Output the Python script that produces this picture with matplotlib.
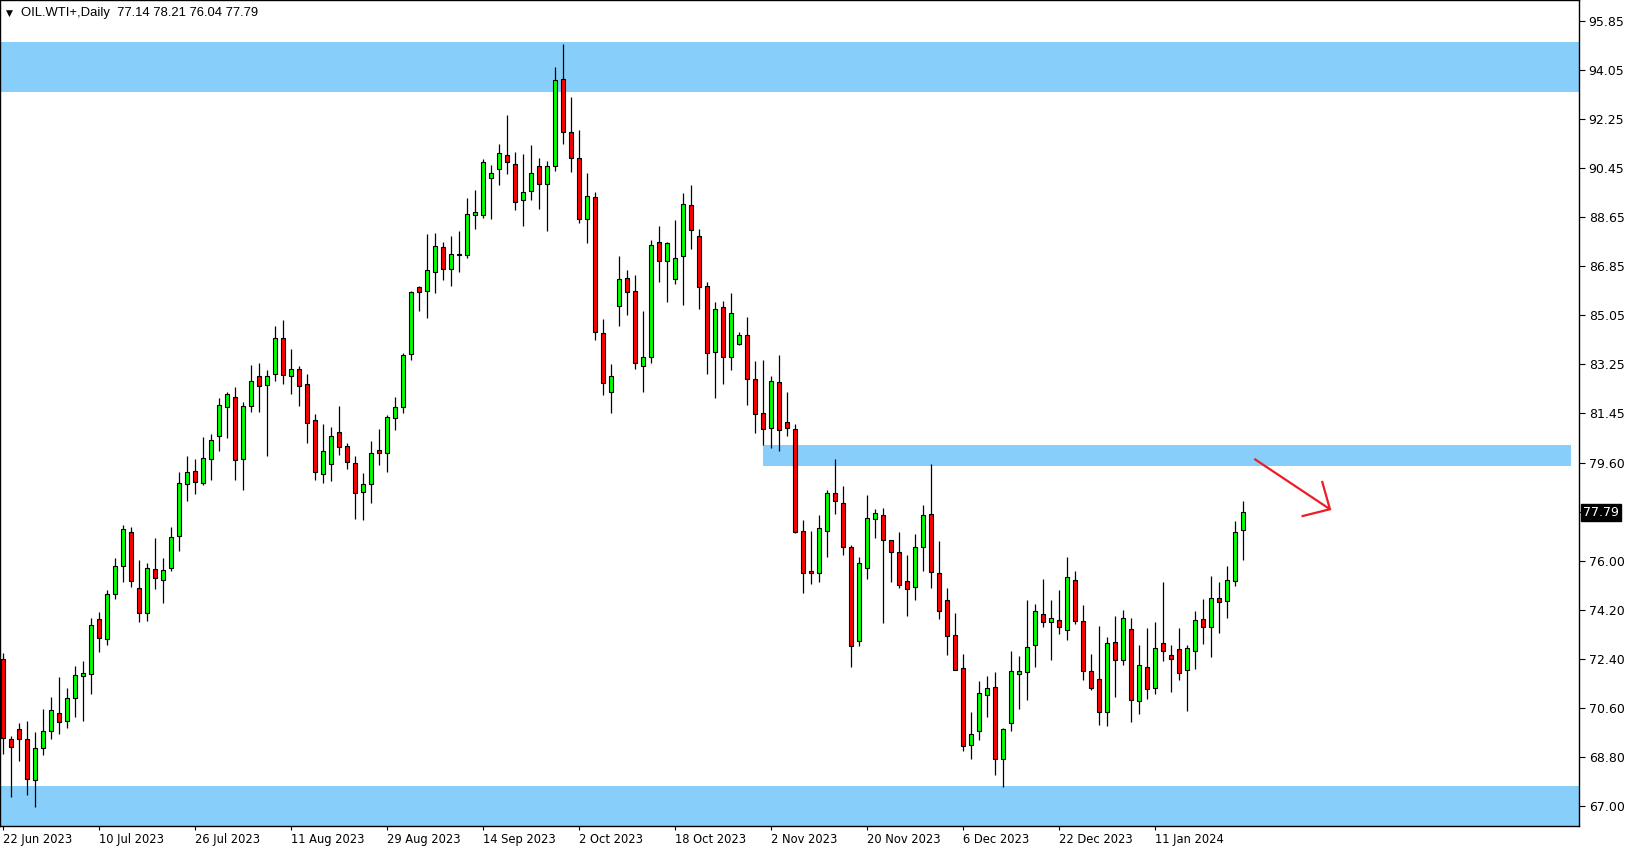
import numpy as np
import matplotlib
matplotlib.use("Agg")
import matplotlib.pyplot as plt
from matplotlib.transforms import blended_transform_factory

plt.rcParams['font.family'] = ['DejaVu Sans']

# daily OHLC, OIL.WTI+
opens = [72.40, 69.46, 69.83, 69.46, 67.96, 69.16, 69.75, 70.42, 70.12, 70.97,
         71.78, 71.85, 73.87, 73.13, 74.79, 75.81, 77.06, 75.01, 74.09, 75.71,
         75.30, 75.74, 76.94, 78.83, 79.30, 78.86, 79.74, 80.61, 81.68, 82.02,
         79.74, 81.69, 82.79, 82.46, 82.86, 84.18, 82.79, 83.05, 82.50, 81.17,
         79.19, 79.56, 80.73, 80.22, 79.60, 78.53, 78.82, 80.07, 79.96, 81.25,
         81.65, 83.60, 86.06, 85.91, 86.63, 87.53, 86.72, 87.26, 87.23, 88.70,
         88.70, 90.06, 90.39, 90.90, 90.57, 89.25, 89.58, 90.50, 89.84, 90.50,
         93.69, 91.75, 90.79, 88.58, 89.36, 84.37, 82.20, 85.36, 86.39, 85.91,
         83.16, 83.49, 87.71, 87.01, 86.35, 87.20, 89.07, 87.93, 86.09, 83.67,
         85.32, 83.49, 83.96, 84.30, 82.68, 81.43, 80.88, 82.57, 81.10, 80.85,
         77.10, 75.63, 75.56, 77.10, 78.50, 78.13, 76.51, 73.06, 75.74, 77.54,
         77.69, 76.77, 76.33, 75.26, 75.04, 76.51, 77.72, 75.56, 74.57, 73.28,
         72.07, 69.24, 69.76, 71.08, 71.37, 68.73, 70.05, 71.85, 71.92, 72.92,
         74.05, 73.76, 73.83, 73.47, 75.30, 73.80, 71.96, 71.67, 70.45, 73.02,
         72.36, 73.50, 70.86, 72.11, 71.34, 72.99, 72.55, 72.77, 72.00, 72.69,
         73.87, 73.58, 74.64, 74.53, 75.26, 77.14]
highs = [72.62, 69.58, 70.06, 70.13, 69.73, 70.58, 71.02, 71.75, 71.35, 72.16,
         72.33, 73.92, 74.13, 74.93, 76.12, 77.32, 77.27, 76.05, 75.93, 76.84,
         76.11, 77.25, 79.27, 79.87, 79.76, 80.56, 80.66, 82.00, 82.20, 82.39,
         81.84, 83.21, 83.28, 83.02, 84.64, 84.86, 83.79, 83.17, 82.88, 81.41,
         81.04, 80.92, 81.70, 80.34, 79.87, 79.24, 80.42, 80.86, 81.36, 82.04,
         83.63, 85.92, 86.11, 88.02, 88.05, 87.71, 87.94, 88.13, 89.34, 89.63,
         90.76, 90.55, 91.32, 92.38, 91.01, 90.94, 91.27, 90.80, 90.68, 94.13,
         94.98, 93.05, 91.82, 90.26, 89.56, 84.88, 83.23, 87.21, 86.68, 86.50,
         85.18, 87.78, 88.31, 87.71, 88.53, 89.52, 89.81, 88.20, 86.24, 85.52,
         85.54, 85.85, 84.40, 84.97, 83.35, 83.39, 82.80, 83.57, 82.21, 81.03,
         77.50, 77.11, 77.70, 78.62, 79.76, 78.76, 76.60, 76.15, 78.43, 77.91,
         77.94, 76.77, 77.06, 76.22, 76.99, 78.05, 79.56, 76.73, 75.01, 74.10,
         72.58, 70.47, 71.61, 71.78, 71.92, 69.87, 72.71, 72.52, 74.58, 74.42,
         75.34, 74.58, 74.95, 76.16, 75.64, 74.40, 72.60, 73.62, 73.21, 73.99,
         74.21, 73.92, 72.93, 73.55, 73.77, 75.23, 72.91, 73.54, 72.91, 74.18,
         74.62, 75.46, 75.23, 75.81, 77.48, 78.21]
lows = [68.91, 67.33, 68.68, 67.42, 66.99, 68.90, 69.49, 69.65, 69.86, 70.30,
        70.15, 71.14, 72.65, 72.94, 74.63, 75.25, 75.07, 73.78, 73.82, 74.97,
        74.46, 75.66, 76.39, 78.23, 78.48, 78.81, 79.00, 80.06, 80.54, 79.00,
        78.63, 81.47, 81.47, 79.85, 82.63, 82.52, 82.15, 81.71, 80.35, 78.98,
        78.89, 78.96, 79.91, 79.40, 77.56, 77.53, 78.12, 79.55, 79.29, 80.83,
        81.43, 83.40, 85.20, 84.94, 85.86, 86.34, 86.12, 86.63, 87.15, 88.21,
        88.61, 88.58, 89.83, 90.23, 88.91, 88.32, 89.25, 88.95, 88.14, 90.34,
        91.33, 90.30, 88.40, 87.70, 84.11, 82.09, 81.46, 84.65, 85.05, 83.07,
        82.23, 83.29, 86.27, 85.53, 86.19, 85.42, 87.48, 85.27, 82.89, 82.01,
        82.52, 83.03, 83.94, 81.75, 80.69, 80.25, 80.17, 80.06, 80.61, 77.05,
        74.85, 75.18, 75.25, 76.17, 77.75, 76.24, 72.10, 72.88, 75.36, 76.87,
        73.75, 75.25, 75.03, 74.00, 74.59, 75.66, 75.00, 73.89, 72.57, 72.00,
        69.05, 68.75, 69.45, 70.30, 68.16, 67.70, 69.78, 70.59, 70.92, 72.11,
        73.58, 72.39, 73.34, 73.10, 73.71, 71.64, 71.29, 70.00, 69.94, 71.03,
        72.18, 70.09, 70.41, 70.96, 71.14, 72.33, 71.19, 71.65, 70.49, 72.06,
        72.95, 72.50, 73.36, 73.91, 75.10, 76.04]
closes = [69.50, 69.19, 69.49, 67.99, 69.13, 69.76, 70.53, 70.09, 70.97, 71.81,
          71.89, 73.65, 73.17, 74.79, 75.81, 77.17, 75.26, 74.09, 75.74, 75.37,
          75.67, 76.88, 78.86, 79.27, 78.90, 79.78, 80.44, 81.73, 82.13, 79.71,
          81.69, 82.61, 82.42, 82.79, 84.18, 82.83, 83.05, 82.42, 81.06, 79.27,
          80.04, 80.59, 80.18, 79.63, 78.49, 78.82, 79.96, 79.96, 81.28, 81.65,
          83.56, 85.87, 85.90, 86.68, 87.56, 86.72, 87.27, 87.28, 88.74, 88.81,
          90.65, 90.24, 90.98, 90.65, 89.18, 89.54, 90.24, 89.84, 90.50, 93.66,
          91.75, 90.79, 88.58, 89.40, 84.41, 82.53, 82.79, 86.35, 85.90, 83.26,
          83.49, 87.60, 87.01, 87.67, 87.12, 89.10, 88.15, 86.05, 83.63, 85.25,
          83.49, 85.10, 84.30, 82.68, 81.42, 80.85, 82.61, 80.81, 80.88, 77.09,
          75.56, 75.56, 77.21, 78.50, 78.20, 76.51, 72.88, 75.93, 77.58, 77.76,
          76.77, 76.33, 75.12, 74.97, 76.51, 77.69, 75.59, 74.16, 73.25, 72.02,
          69.21, 69.65, 71.15, 71.34, 68.73, 69.83, 71.96, 71.96, 72.84, 74.16,
          73.76, 73.91, 73.58, 75.41, 73.80, 71.98, 71.34, 70.45, 72.99, 72.36,
          73.91, 70.90, 72.18, 71.30, 72.80, 72.69, 72.40, 71.89, 72.80, 73.83,
          73.58, 74.64, 74.49, 75.30, 77.06, 77.79]

date_labels = ["22 Jun 2023", "10 Jul 2023", "26 Jul 2023", "11 Aug 2023",
               "29 Aug 2023", "14 Sep 2023", "2 Oct 2023", "18 Oct 2023",
               "2 Nov 2023", "20 Nov 2023", "6 Dec 2023", "22 Dec 2023",
               "11 Jan 2024"]
date_bars = [0, 12, 24, 36, 48, 60, 72, 84, 96, 108, 120, 132, 144]

price_labels = ["67.00", "68.80", "70.60", "72.40", "74.20", "76.00", "",
                "79.60", "81.45", "83.25", "85.05", "86.85", "88.65",
                "90.45", "92.25", "94.05", "95.85"]
last_price = 77.79

# zones (price ranges)
top_zone = (93.24, 95.07)
mid_zone = (79.50, 80.27)
low_zone = (66.0, 67.75)
mid_zone_start = 94.94

# arrow (bar index, price)
arrow_line = ([156.35, 165.81], [79.76, 77.91])
arrow_head = ([164.85, 165.81, 162.4], [78.91, 77.91, 77.66])

o = np.array(opens); h = np.array(highs); l = np.array(lows); c = np.array(closes)
x = np.arange(len(o))
up = c >= o

fig = plt.figure(figsize=(16.29, 8.5), dpi=100)
ax = fig.add_axes([0, 24 / 850, 1579 / 1629, 826 / 850])
ax.set_xlim(-0.4375, 196.94)
ax.set_ylim(66.28, 96.605)

blue = '#87cefa'
ax.axhspan(top_zone[0], top_zone[1], color=blue, lw=0, zorder=1)
ax.axhspan(low_zone[0], low_zone[1], color=blue, lw=0, zorder=1)
ax.fill_between([mid_zone_start, 195.94], mid_zone[0], mid_zone[1], color=blue, lw=0, zorder=1)

ax.vlines(x, l, h, color='black', linewidth=0.9, zorder=2)
ax.bar(x, np.abs(c - o), width=0.5, bottom=np.minimum(o, c),
       color=np.where(up, '#00ff00', '#ff0000'), edgecolor='black', linewidth=0.8, zorder=3)

ax.plot(arrow_line[0], arrow_line[1], color='#ee1c25', lw=1.6, solid_capstyle='butt', zorder=4)
ax.plot(arrow_head[0], arrow_head[1], color='#ee1c25', lw=1.6, solid_joinstyle='miter', zorder=4)

# price scale on the right
levels = 67.0 + np.arange(17) * (95.85 - 67.0) / 16
ax.yaxis.tick_right()
ax.set_yticks(levels)
ax.set_yticklabels(price_labels)
ax.tick_params(axis='y', length=4, width=0.8, pad=3, labelsize=9, colors='black')

ax.set_xticks(date_bars)
ax.set_xticklabels(date_labels, ha='left')
ax.tick_params(axis='x', length=3, width=0.8, pad=2, labelsize=8.3)

for s in ax.spines.values():
    s.set_color('black')
    s.set_linewidth(1.0)

tr = blended_transform_factory(ax.transAxes, ax.transData)
ax.text(1.0 + 4 / 1579, last_price, f"{last_price:.2f}", transform=tr, color='white',
        fontsize=9, va='center', ha='left',
        bbox=dict(facecolor='black', edgecolor='black', pad=1.2))

fig.text(6 / 1629, 1 - 13 / 850, "\u25bc", fontsize=6.5, va='center', ha='left')
fig.text(21 / 1629, 1 - 13 / 850, "OIL.WTI+,Daily  77.14 78.21 76.04 77.79",
         fontsize=9.4, va='center', ha='left', family='Liberation Sans')

fig.savefig("out.png", dpi=100)
